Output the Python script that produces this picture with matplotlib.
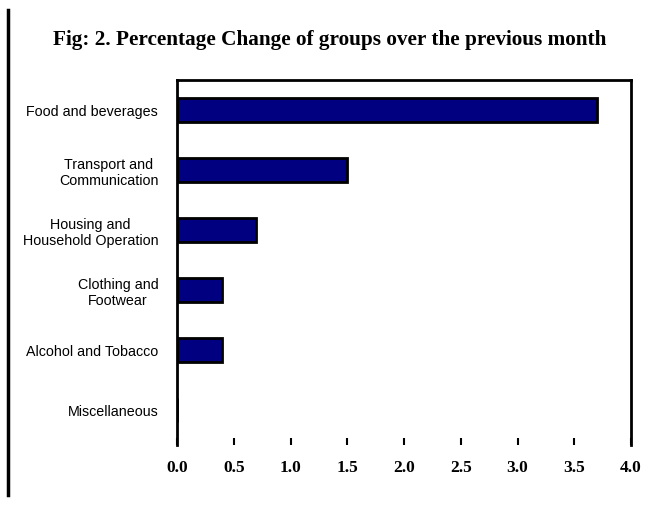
import matplotlib
matplotlib.use("Agg")
import matplotlib.pyplot as plt
from matplotlib.lines import Line2D

categories = ["Food and beverages", "Transport and\nCommunication", "Housing and\nHousehold Operation",
              "Clothing and\nFootwear", "Alcohol and Tobacco", "Miscellaneous"]
values = [3.7, 1.5, 0.7, 0.4, 0.4, 0.0]
xticks = [0.0, 0.5, 1.0, 1.5, 2.0, 2.5, 3.0, 3.5, 4.0]
title = "Fig: 2. Percentage Change of groups over the previous month"

W, H = 651, 508
fig = plt.figure(figsize=(W / 100, H / 100), dpi=100)
ax = fig.add_axes([177 / W, 1 - 445 / H, (631 - 177) / W, (445 - 80) / H])

ypos = list(range(len(categories)))
ax.barh(ypos, values, height=0.4, color="#000080", edgecolor="black", linewidth=2)

ax.set_xlim(0, 4.0)
ax.set_ylim(5.583, -0.5)
ax.set_yticks(ypos)
ax.set_yticklabels(categories, fontsize=10.3, family="Liberation Sans", multialignment="center")
ax.tick_params(axis="y", length=0, pad=13.5)
ax.set_xticks(xticks)
ax.set_xticklabels([f"{t:.1f}" for t in xticks], fontsize=12.5, family="Liberation Serif", fontweight="bold")
ax.tick_params(axis="x", direction="in", length=5, width=1.5, pad=11)

ax.spines["bottom"].set_visible(False)
for s in ["left", "right", "top"]:
    ax.spines[s].set_linewidth(2)

fig.text(330 / W, 1 - 40 / H, title, ha="center", va="center", fontsize=15.3,
         family="Liberation Serif", fontweight="bold")

fig.add_artist(Line2D([8 / W, 8 / W], [1 - 10 / H, 1 - 495 / H], color="black", linewidth=2.5,
                      transform=fig.transFigure))

fig.savefig("out.png", dpi=100)
